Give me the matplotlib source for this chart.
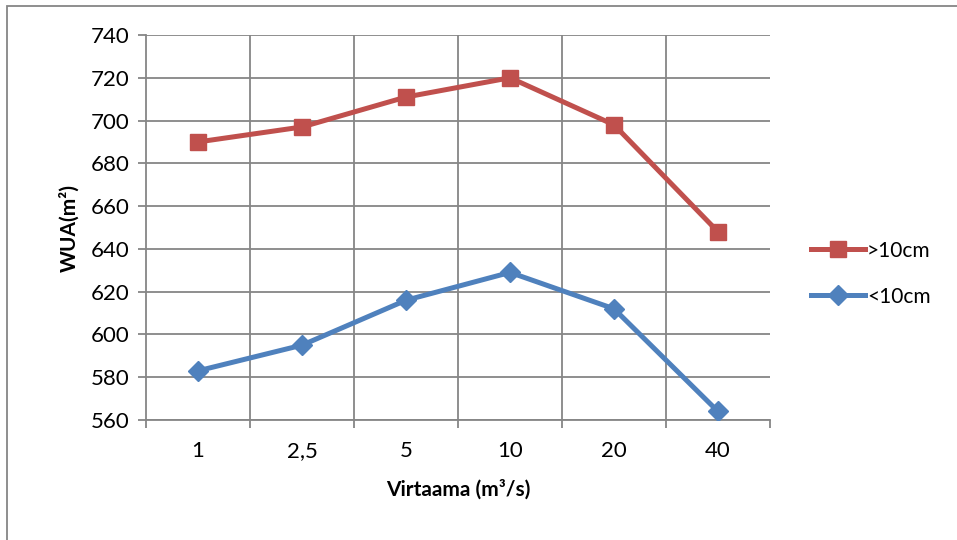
import matplotlib.pyplot as plt
from matplotlib.patches import Rectangle

# Virtaama-luokat ja WUA-arvot
categories = ["1", "2,5", "5", "10", "20", "40"]
wua_over_10 = [690, 697, 711, 720, 698, 648]
wua_under_10 = [583, 595, 616, 629, 612, 564]

plt.rcParams['font.family'] = ['Lato', 'DejaVu Sans']

fig = plt.figure(figsize=(9.57, 5.4), dpi=100)
ax = fig.add_axes([0.1526, 0.2222, 0.652, 0.7130])

x = list(range(1, len(categories) + 1))
grid_col = '#868686'

ax.plot(x, wua_over_10, color='#C0504D', lw=3.6, marker='s', ms=12,
        label='>10cm', zorder=3)
ax.plot(x, wua_under_10, color='#4F81BD', lw=3.6, marker='D', ms=10,
        label='<10cm', zorder=3)

ax.set_xlim(0.5, 6.5)
ax.set_ylim(560, 740)
ax.set_yticks(range(560, 741, 20))
ax.set_xticks(x)
ax.set_xticklabels(categories)
ax.set_xticks([i + 0.5 for i in range(0, 7)], minor=True)

ax.grid(False)
for yv in range(560, 741, 20):
    ax.axhline(yv, color=grid_col, lw=1.3, zorder=1)
for xv in [i + 0.5 for i in range(1, 6)]:
    ax.axvline(xv, color=grid_col, lw=1.3, zorder=1)

for s in ax.spines.values():
    s.set_visible(False)
ax.spines['left'].set_visible(True)
ax.spines['bottom'].set_visible(True)
ax.spines['left'].set_color(grid_col)
ax.spines['bottom'].set_color(grid_col)
ax.spines['left'].set_linewidth(1.3)
ax.spines['bottom'].set_linewidth(1.3)

ax.tick_params(axis='x', which='major', length=0, pad=15, labelsize=16)
ax.tick_params(axis='x', which='minor', length=6, width=1.3, color=grid_col)
ax.tick_params(axis='y', length=6, width=1.3, color=grid_col, labelsize=16, pad=6)

ax.set_xlabel('Virtaama (m³/s)', fontsize=15, fontweight='bold', labelpad=13)
ax.set_ylabel('WUA(m²)', fontsize=15, fontweight='bold', labelpad=8)

ax.legend(loc='center left', bbox_to_anchor=(1.035, 0.38), frameon=False,
          fontsize=15, handlelength=2.6, labelspacing=1.25, handletextpad=0.1)

# kuvan reunaviiva (vasen ja ylä)
fig.patches.append(Rectangle((0.0068, -0.05), 1.1, 1.0398, transform=fig.transFigure,
                             fill=False, ec='#868686', lw=1.3))

fig.savefig('out.png', dpi=100)
